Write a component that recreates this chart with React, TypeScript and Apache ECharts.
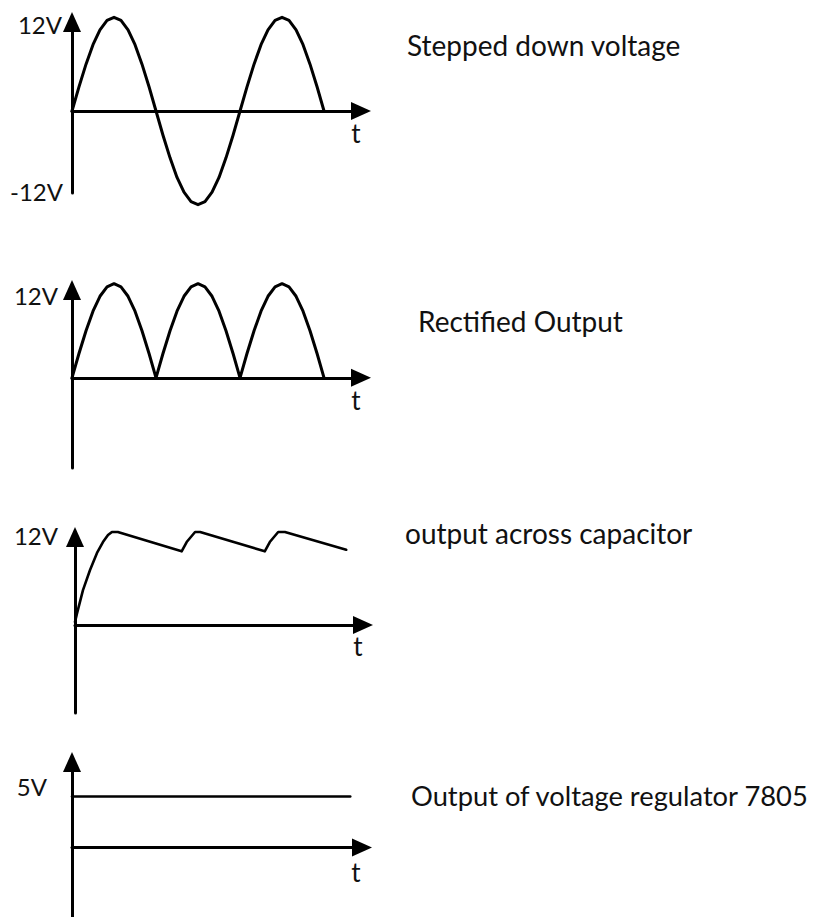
import React, { useEffect, useRef } from "react";
import * as echarts from "echarts";

// ---- data (time in ms, voltage in V) ----
const sineTime = [0, 0.83, 1.67, 2.5, 3.33, 4.17, 5, 5.83, 6.67, 7.5, 8.33, 9.17, 10, 10.83, 11.67, 12.5, 13.33, 14.17, 15, 15.83, 16.67, 17.5, 18.33, 19.17, 20, 20.83, 21.67, 22.5, 23.33, 24.17, 25, 25.83, 26.67, 27.5, 28.33, 29.17, 30];
const steppedVolts = [0, 3.1, 6, 8.5, 10.4, 11.6, 12, 11.6, 10.4, 8.5, 6, 3.1, 0, -3.1, -6, -8.5, -10.4, -11.6, -12, -11.6, -10.4, -8.5, -6, -3.1, 0, 3.1, 6, 8.5, 10.4, 11.6, 12, 11.6, 10.4, 8.5, 6, 3.1, 0];
const rectifiedVolts = [0, 3.1, 6, 8.5, 10.4, 11.6, 12, 11.6, 10.4, 8.5, 6, 3.1, 0, 3.1, 6, 8.5, 10.4, 11.6, 12, 11.6, 10.4, 8.5, 6, 3.1, 0, 3.1, 6, 8.5, 10.4, 11.6, 12, 11.6, 10.4, 8.5, 6, 3.1, 0];
const capTime = [0, 0.24, 0.95, 1.79, 2.62, 3.33, 3.93, 4.4, 5.1, 12.7, 13.3, 14.3, 14.9, 22.6, 23.2, 24.2, 25.0, 32.3];
const capVolts = [0.4, 1.5, 4.5, 7.1, 9.3, 10.7, 11.6, 12, 12, 9.5, 10.7, 12, 12, 9.5, 10.7, 12, 12, 9.7];
const regTime = [0, 33.1];
const regVolts = [5, 5];

const panelTitles = [
  "Stepped down voltage",
  "Rectified Output",
  "output across capacitor",
  "Output of voltage regulator 7805",
];
const levelLabels = ["12V", "-12V", "12V", "12V", "5V"];
const timeLabel = "t";

// axis ranges per panel
const yMin = [-10.5, -11.5, -11.35, -6.8];
const yMax = [11.4, 11.2, 11.35, 8.37];
const xMax = [34.4, 34.4, 34.3, 34.5];

// ---- layout (pixels) ----
const grids = [
  { left: 72, top: 22, width: 289, height: 171 },
  { left: 72, top: 290, width: 289, height: 178 },
  { left: 75, top: 537, width: 288, height: 176 },
  { left: 72, top: 762, width: 290, height: 158 },
];
const titlePos = [
  [407, 45],
  [418, 321],
  [405, 533],
  [411, 795],
];
const titleSize = [28, 28, 28, 27.3];
const levelPos = [
  [62, 24],
  [63, 191],
  [58, 295],
  [58, 535],
  [47, 786],
];
const tPos = [
  [356, 133],
  [356, 400],
  [358, 646],
  [356, 872],
];

const FONT = "Lato, 'Open Sans', sans-serif";
const INK = "#111111";

const pairs = (xs: number[], ys: number[]) => xs.map((x, i) => [x, ys[i]]);

export default function App() {
  const ref = useRef<HTMLDivElement>(null);

  useEffect(() => {
    if (!ref.current) return;
    const chart = echarts.init(ref.current, undefined, { renderer: "svg" });

    const axisLine = {
      show: true,
      symbol: ["none", "triangle"],
      symbolSize: [18, 20],
      lineStyle: { color: "#000", width: 3 },
    };

    const xAxis = grids.map((_, i) => ({
      type: "value",
      gridIndex: i,
      min: 0,
      max: xMax[i],
      axisLine: { ...axisLine, onZero: true },
      axisTick: { show: false },
      axisLabel: { show: false },
      splitLine: { show: false },
    }));
    const yAxis = grids.map((_, i) => ({
      type: "value",
      gridIndex: i,
      min: yMin[i],
      max: yMax[i],
      axisLine: { ...axisLine, onZero: true },
      axisTick: { show: false },
      axisLabel: { show: false },
      splitLine: { show: false },
    }));

    const lineSeries = (idx: number, data: number[][], width: number) => ({
      type: "line",
      xAxisIndex: idx,
      yAxisIndex: idx,
      data,
      symbol: "none",
      showSymbol: false,
      clip: false,
      smooth: false,
      lineStyle: { color: "#000", width, join: "round", cap: "round" },
      z: 5,
    });

    const textEl = (
      text: string,
      x: number,
      y: number,
      align: string,
      size: number
    ) => ({
      type: "text",
      x,
      y,
      silent: true,
      style: {
        text,
        font: `${size}px ${FONT}`,
        fill: INK,
        align,
        verticalAlign: "middle",
        textAlign: align,
        textVerticalAlign: "middle",
      },
    });

    const graphic = [
      ...panelTitles.map((t, i) =>
        textEl(t, titlePos[i][0], titlePos[i][1], "left", titleSize[i])
      ),
      ...levelLabels.map((t, i) => textEl(t, levelPos[i][0], levelPos[i][1], "right", 24)),
      ...tPos.map((p) => textEl(timeLabel, p[0], p[1], "center", 26)),
    ];

    chart.setOption({
      animation: false,
      backgroundColor: "#ffffff",
      grid: grids.map((g) => ({ ...g, containLabel: false })),
      xAxis,
      yAxis,
      series: [
        lineSeries(0, pairs(sineTime, steppedVolts), 3),
        lineSeries(1, pairs(sineTime, rectifiedVolts), 3),
        lineSeries(2, pairs(capTime, capVolts), 2.6),
        lineSeries(3, pairs(regTime, regVolts), 2.6),
      ],
      graphic,
    });

    return () => chart.dispose();
  }, []);

  return (
    <div
      ref={ref}
      style={{ position: "absolute", left: 0, top: 0, width: 817, height: 917 }}
    />
  );
}
